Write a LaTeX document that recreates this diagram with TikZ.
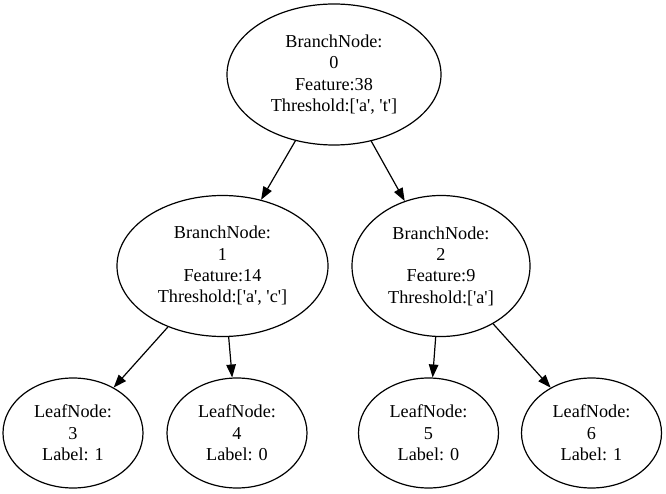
\documentclass[tikz,border=0pt]{standalone}
\usepackage{fontspec}
\setmainfont{Liberation Serif}
\usetikzlibrary{shapes.geometric,arrows.meta}
\newcommand{\sq}{\textquotesingle}
\begin{document}
\begin{tikzpicture}[x=1pt,y=-1pt,
  tn/.style={draw,ellipse,line width=1.2pt,inner sep=0pt,align=center,
    font=\fontsize{18.2pt}{21.3pt}\selectfont},
  branchnode/.style={tn,minimum height=141pt},
  leafnode/.style={tn,minimum width=140pt,minimum height=110pt},
  edge/.style={line width=1.2pt,-{Triangle[length=13pt,width=9.5pt]}}]
\useasboundingbox (0,0) rectangle (666,494);
\node[branchnode,minimum width=214pt] (n0) at (334,74.5) {BranchNode:\\0\\Feature:38\\Threshold:[\sq a\sq, \sq t\sq]};
\node[branchnode,minimum width=211pt] (n1) at (222.5,266) {BranchNode:\\1\\Feature:14\\Threshold:[\sq a\sq, \sq c\sq]};
\node[branchnode,minimum width=178pt] (n2) at (441,266) {BranchNode:\\2\\Feature:9\\Threshold:[\sq a\sq]};
\node[leafnode] (n3) at (73,433) {LeafNode:\\3\\Label: 1};
\node[leafnode] (n4) at (237,433) {LeafNode:\\4\\Label: 0};
\node[leafnode] (n5) at (428.5,433) {LeafNode:\\5\\Label: 0};
\node[leafnode] (n6) at (591.5,433) {LeafNode:\\6\\Label: 1};
\draw[edge] (n0) -- (n1);
\draw[edge] (n0) -- (n2);
\draw[edge] (n1) -- (n3);
\draw[edge] (n1) -- (n4);
\draw[edge] (n2) -- (n5);
\draw[edge] (n2) -- (n6);
\end{tikzpicture}
\end{document}
